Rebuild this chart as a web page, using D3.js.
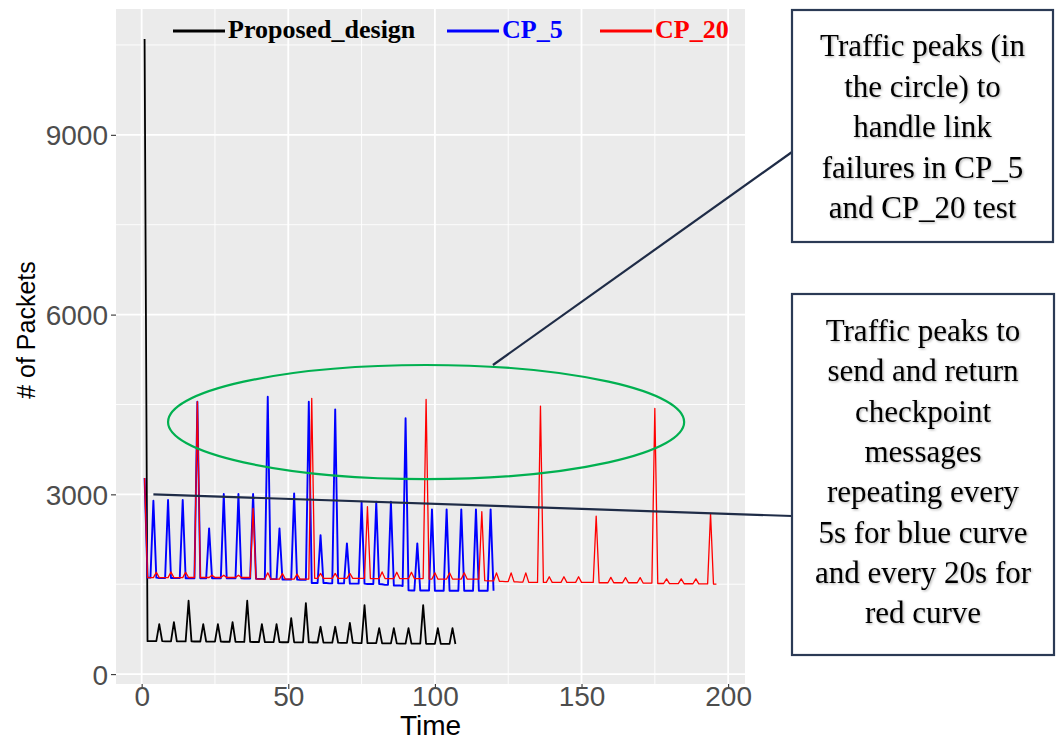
<!DOCTYPE html>
<html>
<head>
<meta charset="utf-8">
<script src="https://cdn.jsdelivr.net/npm/d3@7"></script>
<style>
  body { margin: 0; background: #fff; }
  svg { display: block; }
</style>
</head>
<body>
<svg id="chart" width="1056" height="740"></svg>
<script>
// ---- data: packets per second, first sample at t = 1 ----
const startTime = 1;
const seriesNames = ["Proposed_design", "CP_5", "CP_20"];
const seriesColors = ["#000000", "#0000FF", "#FF0000"];

const proposedDesign = [
  10600, 550, 550, 550, 550,
  835, 550, 548, 548, 548,
  868, 548, 546, 546, 546,
  1224, 546, 544, 544, 544,
  835, 544, 542, 542, 542,
  835, 542, 540, 540, 540,
  868, 540, 538, 538, 538,
  1224, 538, 536, 536, 536,
  835, 536, 534, 534, 534,
  835, 534, 532, 532, 532,
  935, 532, 530, 530, 530,
  1185, 530, 528, 528, 528,
  790, 526, 524, 524, 524,
  790, 524, 522, 522, 522,
  856, 520, 520, 518, 518,
  1152, 518, 516, 516, 516,
  768, 514, 514, 512, 512,
  768, 512, 510, 510, 510,
  768, 510, 508, 508, 508,
  1152, 506, 506, 506, 506,
  768, 504, 504, 504, 504,
  768, 502
];

const cp5 = [
  3272, 1610, 1610, 2893, 1610,
  1605, 1605, 1605, 2905, 1605,
  1605, 1605, 1605, 2905, 1600,
  1600, 1600, 1600, 4546, 1600,
  1600, 1600, 2432, 1600, 1600,
  1600, 1600, 3005, 1600, 1600,
  1600, 1600, 3005, 1600, 1595,
  1595, 1595, 3005, 1590, 1590,
  1590, 1585, 4629, 1585, 1585,
  1585, 2432, 1580, 1580, 1580,
  1580, 3016, 1580, 1575, 1575,
  1575, 4546, 1520, 1520, 1520,
  2320, 1520, 1520, 1515, 1515,
  4419, 1515, 1515, 1515, 2182,
  1510, 1510, 1510, 1510, 2876,
  1510, 1505, 1505, 1505, 2876,
  1505, 1500, 1490, 1490, 2876,
  1480, 1480, 1480, 1470, 4269,
  1400, 1395, 1395, 2182, 1395,
  1395, 1395, 1395, 2750, 1390,
  1390, 1390, 1390, 2750, 1390,
  1390, 1390, 1390, 2750, 1390,
  1390, 1390, 1390, 2750, 1390,
  1390, 1390, 1390, 2750, 1390
];

const cp20 = [
  3272, 1610, 1610, 1610, 1700,
  1610, 1610, 1610, 1610, 1705,
  1610, 1610, 1610, 1610, 1700,
  1612, 1612, 1612, 4546, 1612,
  1612, 1612, 1612, 1650, 1612,
  1612, 1612, 1650, 1612, 1612,
  1612, 1612, 1650, 1612, 1612,
  1612, 1612, 2766, 1590, 1586,
  1586, 1586, 1690, 1586, 1586,
  1586, 1586, 1680, 1586, 1586,
  1586, 1586, 1670, 1586, 1586,
  1586, 1586, 4603, 1598, 1598,
  1680, 1598, 1598, 1598, 1598,
  1680, 1598, 1598, 1598, 1598,
  1680, 1598, 1598, 1598, 1598,
  1598, 2793, 1595, 1595, 1595,
  1595, 1705, 1595, 1595, 1595,
  1595, 1700, 1595, 1595, 1595,
  1595, 1700, 1595, 1595, 1595,
  1595, 4586, 1586, 1586, 1690,
  1586, 1586, 1586, 1586, 1690,
  1586, 1586, 1586, 1586, 1690,
  1586, 1586, 1586, 1586, 1586,
  2710, 1560, 1555, 1555, 1555,
  1690, 1550, 1548, 1545, 1545,
  1690, 1540, 1538, 1535, 1535,
  1690, 1531, 1531, 1531, 1531,
  4474, 1531, 1531, 1624, 1531,
  1531, 1531, 1531, 1624, 1531,
  1531, 1531, 1531, 1624, 1531,
  1531, 1531, 1531, 1531, 2638,
  1525, 1525, 1525, 1525, 1615,
  1525, 1525, 1525, 1525, 1610,
  1525, 1525, 1525, 1525, 1610,
  1520, 1520, 1520, 1520, 4436,
  1512, 1512, 1512, 1590, 1510,
  1510, 1510, 1510, 1590, 1508,
  1508, 1508, 1508, 1590, 1505,
  1505, 1505, 1505, 2683, 1503,
  1503
];

const seriesValues = [proposedDesign, cp5, cp20];

// axis breaks
const xTicks = [0, 50, 100, 150, 200];
const xMinorTicks = [25, 75, 125, 175];
const yTicks = [0, 3000, 6000, 9000];
const yMinorTicks = [1500, 4500, 7500, 10500];
const yDomain = [-165, 11100];

// callout texts
const noteFailures = ["Traffic peaks (in", "the circle) to", "handle link", "failures in CP_5", "and CP_20 test"];
const noteCheckpoints = ["Traffic peaks to", "send and return", "checkpoint", "messages", "repeating every",
  "5s for blue curve", "and every 20s for", "red curve"];

// ---- layout ----
const svg = d3.select("#chart");
const panel = { left: 116, right: 745, top: 9, bottom: 684 };

const maxT = d3.max(seriesValues, s => startTime + s.length - 1);
const spanT = maxT - startTime;
const x = d3.scaleLinear()
  .domain([startTime - spanT * 0.05, maxT + spanT * 0.05])
  .range([panel.left, panel.right]);
const y = d3.scaleLinear().domain(yDomain).range([panel.bottom, panel.top]);

// panel background and grid
svg.append("rect")
  .attr("x", panel.left).attr("y", panel.top)
  .attr("width", panel.right - panel.left).attr("height", panel.bottom - panel.top)
  .attr("fill", "#EBEBEB");

const grid = svg.append("g");
grid.selectAll(".xminor").data(xMinorTicks).join("line")
  .attr("x1", d => x(d)).attr("x2", d => x(d))
  .attr("y1", panel.top).attr("y2", panel.bottom)
  .attr("stroke", "#fff").attr("stroke-width", 0.9);
grid.selectAll(".yminor").data(yMinorTicks).join("line")
  .attr("y1", d => y(d)).attr("y2", d => y(d))
  .attr("x1", panel.left).attr("x2", panel.right)
  .attr("stroke", "#fff").attr("stroke-width", 0.9);
grid.selectAll(".xmajor").data(xTicks).join("line")
  .attr("x1", d => x(d)).attr("x2", d => x(d))
  .attr("y1", panel.top).attr("y2", panel.bottom)
  .attr("stroke", "#fff").attr("stroke-width", 1.8);
grid.selectAll(".ymajor").data(yTicks).join("line")
  .attr("y1", d => y(d)).attr("y2", d => y(d))
  .attr("x1", panel.left).attr("x2", panel.right)
  .attr("stroke", "#fff").attr("stroke-width", 1.8);

// axes
const xAxis = d3.axisBottom(x).tickValues(xTicks).tickSize(5).tickPadding(3).tickFormat(d3.format("d"));
const yAxis = d3.axisLeft(y).tickValues(yTicks).tickSize(5).tickPadding(3).tickFormat(d3.format("d"));

const gx = svg.append("g").attr("transform", `translate(0,${panel.bottom})`).call(xAxis);
const gy = svg.append("g").attr("transform", `translate(${panel.left},0)`).call(yAxis);
[gx, gy].forEach(g => {
  g.select(".domain").remove();
  g.selectAll(".tick line").attr("stroke", "#333").attr("stroke-width", 1.1);
  g.selectAll(".tick text")
    .attr("fill", "#4D4D4D")
    .style("font-family", "'Liberation Sans', Arial, sans-serif")
    .style("font-size", "28px");
});
gx.selectAll(".tick text").attr("y", 2).attr("dy", "0.72em");
gy.selectAll(".tick text").attr("dy", "0.36em");

// axis titles
svg.append("text")
  .attr("x", (panel.left + panel.right) / 2).attr("y", 735)
  .attr("text-anchor", "middle")
  .style("font-family", "'Liberation Sans', Arial, sans-serif")
  .style("font-size", "28px").attr("fill", "#000")
  .text("Time");
svg.append("text")
  .attr("transform", "translate(35,330) rotate(-90)")
  .attr("text-anchor", "middle")
  .style("font-family", "'Liberation Sans', Arial, sans-serif")
  .style("font-size", "25px").attr("fill", "#000")
  .text("# of Packets");

// series lines
const line = d3.line()
  .x((d, i) => x(startTime + i))
  .y(d => y(d));
const lineWidths = [1.8, 1.9, 1.3];
svg.append("g").selectAll("path").data(seriesValues).join("path")
  .attr("d", d => line(d))
  .attr("fill", "none")
  .attr("stroke", (d, i) => seriesColors[i])
  .attr("stroke-width", (d, i) => lineWidths[i])
  .attr("stroke-linejoin", "round");

// legend
const legendX = [173, 447, 600];
const legendY = 31;
const legend = svg.append("g");
seriesNames.forEach((name, i) => {
  legend.append("line")
    .attr("x1", legendX[i]).attr("x2", legendX[i] + 52)
    .attr("y1", legendY).attr("y2", legendY)
    .attr("stroke", seriesColors[i]).attr("stroke-width", 3);
  legend.append("text")
    .attr("x", legendX[i] + 55).attr("y", legendY + 7)
    .style("font-family", "'Liberation Serif', 'Times New Roman', serif")
    .style("font-weight", "bold").style("font-size", "26px")
    .attr("fill", seriesColors[i])
    .text(name);
});

// annotations: ellipse around the failure peaks and callouts
const navy = "#1F2C47";
const ell = { t: 97, v: 4207, dt: 88, dv: 952 };
svg.append("ellipse")
  .attr("cx", x(ell.t)).attr("cy", y(ell.v))
  .attr("rx", x(ell.t + ell.dt) - x(ell.t))
  .attr("ry", y(ell.v - ell.dv) - y(ell.v))
  .attr("fill", "none").attr("stroke", "#00B050").attr("stroke-width", 2.2);

const box1 = { x: 792, y: 10, w: 261, h: 232 };
const box2 = { x: 792, y: 294, w: 262, h: 361 };

svg.append("line")
  .attr("x1", x(119.8)).attr("y1", y(5159))
  .attr("x2", box1.x).attr("y2", 152)
  .attr("stroke", navy).attr("stroke-width", 2.2);
svg.append("line")
  .attr("x1", x(4)).attr("y1", y(3000))
  .attr("x2", box2.x).attr("y2", 516)
  .attr("stroke", navy).attr("stroke-width", 2.2);

const defs = svg.append("defs");
const shadow = defs.append("filter").attr("id", "softShadow")
  .attr("x", "-10%").attr("y", "-10%").attr("width", "130%").attr("height", "140%");
shadow.append("feDropShadow")
  .attr("dx", 1.2).attr("dy", 1.2).attr("stdDeviation", 0.9)
  .attr("flood-color", "#000").attr("flood-opacity", 0.3);

function callout(box, lines, firstBaseline, step) {
  svg.append("rect")
    .attr("x", box.x).attr("y", box.y).attr("width", box.w).attr("height", box.h)
    .attr("fill", "#fff").attr("stroke", "#2B3A55").attr("stroke-width", 2.2);
  const t = svg.append("text")
    .attr("text-anchor", "middle")
    .attr("filter", "url(#softShadow)")
    .style("font-family", "'Liberation Serif', 'Times New Roman', serif")
    .style("font-size", "31px").attr("fill", "#000");
  lines.forEach((s, i) => {
    t.append("tspan")
      .attr("x", box.x + box.w / 2)
      .attr("y", firstBaseline + i * step)
      .text(s);
  });
}
callout(box1, noteFailures, 56, 40.5);
callout(box2, noteCheckpoints, 341, 40.3);
</script>
</body>
</html>
